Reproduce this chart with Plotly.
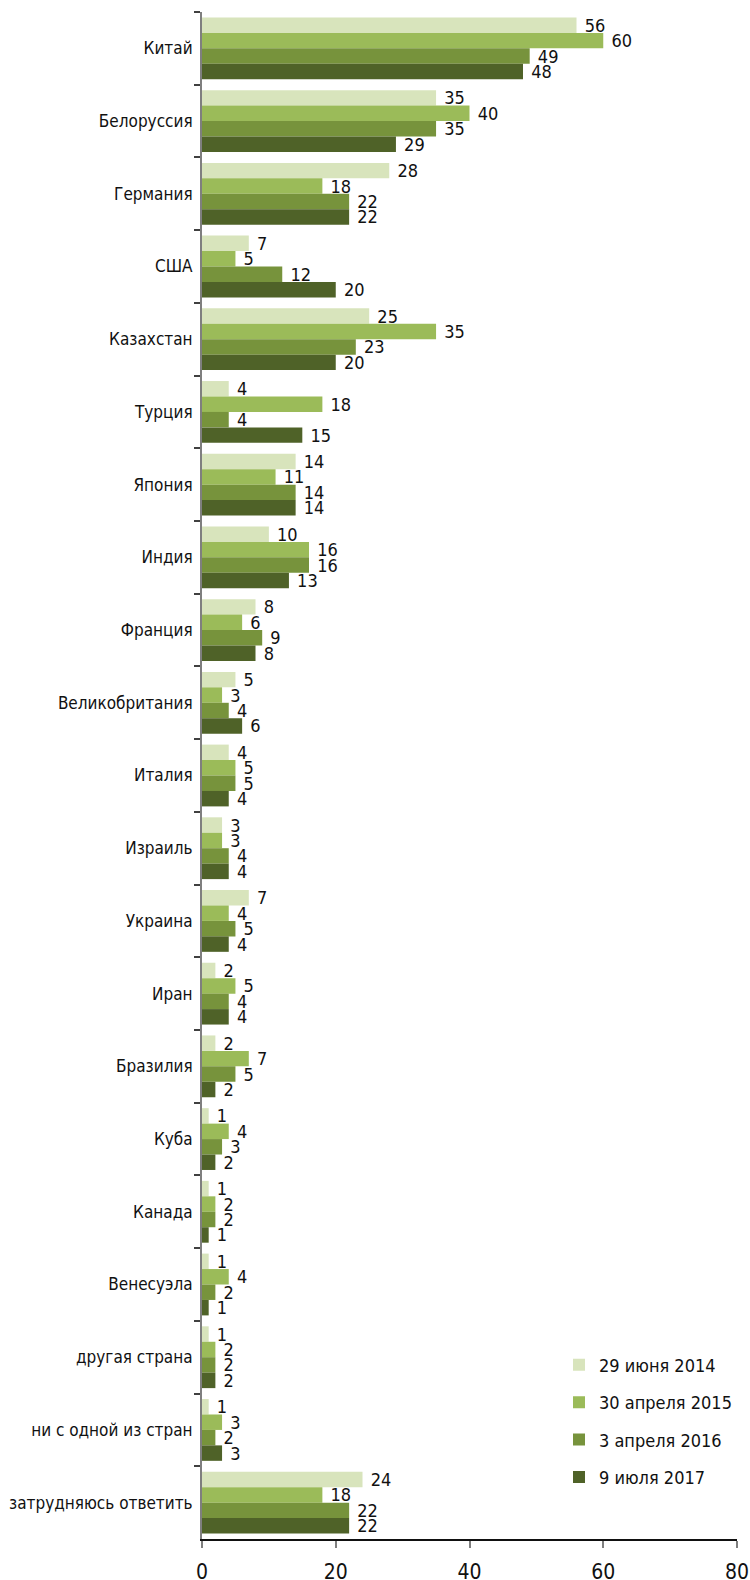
import plotly.graph_objects as go

categories = ["Китай", "Белоруссия", "Германия", "США", "Казахстан", "Турция", "Япония",
              "Индия", "Франция", "Великобритания", "Италия", "Израиль", "Украина", "Иран",
              "Бразилия", "Куба", "Канада", "Венесуэла", "другая страна",
              "ни с одной из стран", "затрудняюсь ответить"]

series_names = ["29 июня 2014", "30 апреля 2015", "3 апреля 2016", "9 июля 2017"]

v2014 = [56, 35, 28, 7, 25, 4, 14, 10, 8, 5, 4, 3, 7, 2, 2, 1, 1, 1, 1, 1, 24]
v2015 = [60, 40, 18, 5, 35, 18, 11, 16, 6, 3, 5, 3, 4, 5, 7, 4, 2, 4, 2, 3, 18]
v2016 = [49, 35, 22, 12, 23, 4, 14, 16, 9, 4, 5, 4, 5, 4, 5, 3, 2, 2, 2, 2, 22]
v2017 = [48, 29, 22, 20, 20, 15, 14, 13, 8, 6, 4, 4, 4, 4, 2, 2, 1, 1, 2, 3, 22]

colors = ["#d8e4bc", "#9bbb59", "#77933c", "#4f6228"]
x_ticks = [0, 20, 40, 60, 80]

FONT = "DejaVu Sans Condensed, Liberation Sans Narrow, sans-serif"

fig = go.Figure()
for name, vals, col in zip(series_names, [v2014, v2015, v2016, v2017], colors):
    fig.add_trace(go.Bar(
        y=categories, x=vals, name=name, orientation="h",
        marker=dict(color=col, line=dict(width=0)),
        text=[f" {v}" for v in vals], textposition="outside",
        constraintext="none",
        textfont=dict(size=18, color="#111111", family=FONT),
        cliponaxis=False, legendgroup=name,
    ))

fig.update_layout(
    width=750, height=1580,
    margin=dict(l=202, r=13, t=12, b=41),
    paper_bgcolor="white", plot_bgcolor="white",
    barmode="group", bargap=0.15, bargroupgap=0,
    font=dict(family=FONT, size=17, color="#111111"),
    showlegend=True,
    legend=dict(
        x=1.0, y=0.126, xanchor="right", yanchor="top",
        traceorder="grouped", tracegroupgap=11,
        font=dict(size=18, family=FONT, color="#111111"),
        bgcolor="rgba(0,0,0,0)", itemwidth=30, borderwidth=0,
    ),
)
fig.update_yaxes(
    autorange="reversed", type="category", automargin=False,
    showline=True, linecolor="#7f7f7f", linewidth=2,
    ticks="outside", tickson="boundaries", ticklen=6, tickcolor="#404040", tickwidth=2,
    showgrid=False, tickfont=dict(size=17, family=FONT, color="#111111"),
    ticklabelstandoff=4,
)
fig.update_xaxes(
    range=[0, 80], tickvals=x_ticks, ticktext=[str(t) for t in x_ticks],
    automargin=False,
    showline=True, linecolor="#111111", linewidth=2,
    ticks="outside", ticklen=7, tickcolor="#7f7f7f", tickwidth=2,
    showgrid=False, zeroline=False, ticklabelstandoff=6,
    tickfont=dict(size=21, family=FONT, color="#111111"),
)

fig.write_html("out.html", config={"displayModeBar": False},
               post_script="document.body.style.margin='0';document.body.style.overflow='hidden';")
